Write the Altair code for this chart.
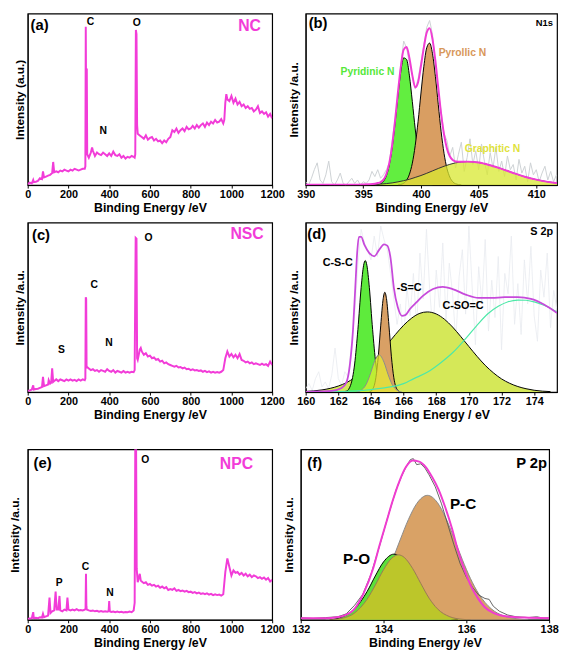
import altair as alt
import pandas as pd

FONT = "Liberation Sans"
MAG = "#F23CD8"

# ---------------- (a) NC survey: (binding energy, intensity) ----------------
a_points = [(0,0.5),(10,1.5),(20,1.0),(27,3.0),(30,1.8),(40,2.0),(50,2.5),(60,4.0),(70,3.5),(75,8.0),
            (80,4.5),(90,5.0),(100,5.5),(110,6.0),(120,7.0),(125,13.5),(130,7.5),(140,8.0),(150,7.5),
            (160,8.5),(170,8.0),(180,9.0),(190,8.5),(200,8.0),(210,9.0),(220,8.5),(230,9.5),(240,9.0),
            (250,8.5),(260,9.0),(270,9.5),(280,9.5),(283,11),(285,92.4),(287,40),(289,20),(290,68),
            (292,18),(300,16),(310,19),(316,22),(320,20),(330,17),(340,19),(350,18),(360,17.5),(370,19),
            (380,18),(390,17),(400,18.5),(410,17),(420,19.5),(430,17.5),(440,17),(450,18),(460,16),
            (470,17),(480,15.5),(490,16.5),(500,16),(510,17),(520,16.5),(525,16),(528,18),(531,90.5),
            (534,88),(537,35),(540,30),(550,29),(560,28),(570,27),(580,29),(590,26.5),(600,27.5),
            (610,28),(620,26),(630,27),(640,25.5),(650,26),(660,24.5),(670,26),(680,25),(690,27),
            (700,28),(710,32),(720,31),(730,33),(740,30.5),(750,32),(760,33),(770,31.5),(780,34),
            (790,32.5),(800,33),(810,34.5),(820,33),(830,35),(840,33.5),(850,35),(860,36),(870,34),
            (880,36.5),(890,35),(900,37),(910,36),(920,38),(930,36.5),(940,37),(950,38.5),(960,36),
            (965,38),(970,48),(975,53),(980,50),(990,49),(1000,52),(1010,48),(1020,50.5),(1030,47),
            (1040,48.5),(1050,46),(1060,47),(1070,45),(1080,46),(1090,44.5),(1100,45),(1110,43),
            (1120,44),(1130,46),(1140,42),(1150,43),(1160,41.5),(1170,42.5),(1180,40),(1190,41.5),(1200,39)]

# ---------------- (c) NSC survey ----------------
c_points = [(0,0.8),(10,1.0),(20,1.5),(27,4.0),(30,1.5),(40,1.8),(50,2.0),(60,2.5),(70,3.0),(75,9.0),
            (80,3.5),(90,4.0),(100,4.5),(103,7.0),(110,5.0),(115,5.5),(120,14.0),(125,6.0),(130,6.5),
            (140,7.5),(150,6.5),(160,7.5),(170,7.0),(180,6.5),(190,7.5),(200,6.8),(210,7.5),(220,6.8),
            (230,7.2),(240,6.5),(250,7.5),(260,6.8),(270,7.5),(280,7.0),(283,8),(285,56),(287,55),
            (289,14),(290,15),(300,14),(310,13),(320,13.5),(330,12.5),(340,13),(350,12),(360,13),
            (370,12.5),(380,12),(390,13.5),(400,12.5),(410,12),(420,13),(430,11.5),(440,12.5),(450,12),
            (460,11.5),(470,12.5),(480,11.5),(490,12),(500,11.5),(510,12),(520,11.8),(525,13),(530,91),
            (534,90.5),(537,20),(540,19),(550,25),(555,26),(560,24),(570,22),(580,23),(590,21),
            (600,21.5),(610,20),(620,20.5),(630,19),(640,19.5),(650,18),(660,18.5),(670,17),(680,17.5),
            (690,16.5),(700,16),(710,15.5),(720,15),(730,15.5),(740,14.5),(750,14.8),(760,14),(770,14.5),
            (780,13.5),(790,13.8),(800,13),(810,13.5),(820,12.8),(830,13),(840,12.5),(850,12.8),(860,12),
            (870,12.5),(880,11.8),(890,12.2),(900,11.5),(910,12),(920,11.5),(930,11.8),(940,11.5),
            (950,12),(960,13),(970,20),(980,24),(990,21),(1000,22.5),(1010,20.5),(1020,22),(1030,20),
            (1040,22.5),(1050,19),(1060,18.5),(1070,17.5),(1080,18),(1090,17),(1100,17.5),(1110,16.5),
            (1120,17),(1130,16.5),(1140,16),(1150,16.8),(1160,16),(1170,16.5),(1180,15.5),(1190,18),(1200,16)]

# ---------------- (e) NPC survey ----------------
e_points = [(0,0.5),(10,0.8),(20,1.0),(27,4.5),(30,1.0),(40,1.2),(50,1.0),(60,1.5),(70,1.3),(75,3.5),
            (80,1.5),(90,2.0),(100,2.5),(107,13),(112,4),(120,5),(130,5.5),(137,16.5),(142,6),(150,6),
            (156,14),(160,5.5),(170,5.0),(180,6),(190,5.5),(195,13),(200,6),(210,5.5),(220,6),(230,5.5),
            (240,6.2),(250,5.5),(260,5.8),(270,5.5),(280,6),(284,6.5),(286,27),(288,8),(290,6),(300,5.5),
            (310,5.2),(320,5.5),(330,5),(340,5.3),(350,4.8),(360,5.2),(370,4.8),(380,5),(390,4.7),
            (397,5),(400,11),(403,5),(410,4.6),(420,4.9),(430,4.5),(440,4.8),(450,4.4),(460,4.7),
            (470,4.3),(480,4.6),(490,4.5),(500,4.8),(510,4.5),(520,5.5),(525,10),(528,102),(532,102),
            (535,30),(540,22),(550,27),(555,23),(560,22.5),(570,21.5),(580,22),(590,20.5),(600,21),
            (610,20),(620,20.5),(630,19.5),(640,20),(650,18.8),(660,19.5),(670,18.5),(680,19.2),
            (690,17.5),(700,18),(710,17.6),(720,18.5),(730,17),(740,17.5),(750,16.8),(760,17.2),
            (770,16.5),(780,17),(790,16.2),(800,16.5),(810,15.8),(820,16.2),(830,15.5),(840,16),
            (850,15.2),(860,15.6),(870,15),(880,15.5),(890,14.8),(900,15.2),(910,14.5),(920,15),
            (930,14.5),(940,14.8),(950,14.2),(960,15),(970,28),(980,36),(990,31),(1000,26),(1010,29),
            (1020,27.5),(1030,28),(1040,26.5),(1050,27.5),(1060,26),(1070,27),(1080,25.5),(1090,26.5),
            (1100,25),(1110,26),(1120,25.5),(1130,24.5),(1140,25),(1150,24),(1160,24.8),(1170,23.5),
            (1180,24.5),(1190,22.5),(1200,23.5)]

# ---------------- (b) N1s ----------------
b_raw = [(390,2),(390.25,0),(390.5,4),(390.75,9),(391,13),(391.25,3),(391.5,1),(391.75,6),(392,14),
         (392.25,2),(392.5,0),(392.75,3),(393,7),(393.25,1),(393.5,0),(393.75,2),(394,4),(394.25,1),
         (394.5,3),(394.75,0),(395,2),(395.25,1),(395.5,3),(395.75,8),(396,5),(396.25,9),(396.5,4),
         (396.75,6),(397,9),(397.25,13),(397.5,26),(397.75,38),(398,52),(398.25,70),(398.5,84),
         (398.75,80),(399,71),(399.25,64),(399.5,56),(399.75,62),(400,72),(400.25,82),(400.5,92),
         (400.75,96),(401,88),(401.25,70),(401.5,55),(401.75,43),(402,30),(402.25,26),(402.5,17),
         (402.75,22),(403,10),(403.25,18),(403.5,25),(403.75,8),(404,16),(404.25,27),(404.5,12),
         (404.75,20),(405,9),(405.25,24),(405.5,14),(405.75,6),(406,19),(406.25,10),(406.5,22),
         (406.75,8),(407,14),(407.25,5),(407.5,17),(407.75,9),(408,12),(408.25,3),(408.5,15),
         (408.75,7),(409,11),(409.25,2),(409.5,13),(409.75,6),(410,9),(410.25,2),(410.5,7),
         (410.75,11),(411,3),(411.25,8),(411.5,2),(411.75,6),(412,4)]
b_env_x = [390,391,392,393,394,395,396,396.25,396.5,396.75,397,397.25,397.5,397.75,398,398.25,398.5,
           398.75,399,399.25,399.5,399.75,400,400.25,400.5,400.75,401,401.25,401.5,401.75,402,402.25,
           402.5,402.75,403,403.5,404,405,406,407,408,409,410,411,412]
b_env_y = [0.3,0.3,0.3,0.3,0.3,0.4,0.8,1.2,1.8,3.2,6.5,12.8,23,37.5,54,69,79,80.5,74,64,57,60,69.5,
           80.2,89,91.5,85.1,72.4,56.7,41.4,29.5,21.4,16.8,14.6,13.8,13.6,13.7,13.2,11.6,9.5,7.1,4.9,
           3.2,1.9,1.0]
b_pyr_x = [396,396.25,396.5,396.75,397,397.25,397.5,397.75,398,398.25,398.5,398.75,399,399.25,399.5,
           399.75,400,400.25,400.5,400.75,401]
b_pyr_y = [0.1,0.3,0.8,2.3,5.5,11.7,21.8,35.9,52.0,66.2,74.2,73.3,63.7,48.7,32.8,19.4,10.2,4.6,1.9,0.7,0.2]
b_pyl_x = [398,398.25,398.5,398.75,399,399.25,399.5,399.75,400,400.25,400.5,400.75,401,401.25,401.5,
           401.75,402,402.25,402.5,402.75,403,403.5]
b_pyl_y = [0.1,0.4,1.1,2.8,6.4,12.8,23.1,37.2,53.7,69.3,80.1,82.8,76.6,63.4,47.0,31.1,18.5,9.8,4.7,
           2.0,0.8,0.1]
b_gra_x = [392,393,394,395,396,396.5,397,397.5,398,398.5,399,399.5,400,400.5,401,401.5,402,402.5,403,
           403.5,404,405,406,407,408,409,410,411,412]
b_gra_y = [0.0,0.0,0.05,0.15,0.4,0.6,0.9,1.3,1.9,2.6,3.4,4.5,5.6,6.9,8.3,9.7,11.0,12.1,13.0,13.5,13.7,
           13.2,11.6,9.5,7.1,4.9,3.2,1.9,1.0]

# ---------------- (d) S 2p ----------------
d_raw = [(160.0,2),(160.2,5),(160.4,1),(160.6,8),(160.8,12),(161.0,3),(161.2,6),(161.4,2),(161.6,10),
         (161.8,26),(162.0,8),(162.2,4),(162.4,12),(162.6,9),(162.8,28),(163.0,45),(163.2,75),(163.4,96),
         (163.6,88),(163.8,84),(164.0,78),(164.2,92),(164.4,80),(164.6,98),(164.8,90),(165.0,84),
         (165.2,70),(165.4,55),(165.6,40),(165.8,52),(166.0,30),(166.2,62),(166.4,45),(166.6,70),
         (166.8,38),(167.0,82),(167.2,55),(167.4,96),(167.6,60),(167.8,35),(168.0,72),(168.2,50),
         (168.4,88),(168.6,42),(168.8,76),(169.0,58),(169.2,30),(169.4,68),(169.6,84),(169.8,46),
         (170.0,98),(170.2,62),(170.4,28),(170.6,74),(170.8,52),(171.0,90),(171.2,36),(171.4,66),
         (171.6,44),(171.8,80),(172.0,25),(172.2,70),(172.4,58),(172.6,92),(172.8,40),(173.0,64),
         (173.2,34),(173.4,78),(173.6,52),(173.8,86),(174.0,45),(174.2,30),(174.4,72),(174.6,56),
         (174.8,82),(175.0,38),(175.2,60),(175.4,48)]
d_env_x = [160,161.6,162.2,162.5,162.7,162.9,163.04,163.16,163.26,163.4,163.6,163.9,164.2,164.5,164.8,
           165.0,165.2,165.4,165.64,165.9,166.1,166.4,166.8,167.2,167.8,168.4,169.0,169.8,170.6,171.4,
           172.2,173.0,173.8,174.6,175.4]
d_env_y = [0.1,0.7,2.4,5.9,15.5,36.7,61.7,82.9,91.6,91.6,86.8,82.0,80.1,83.9,87.2,86.4,79.1,61.7,50.2,
           45.0,45.4,49.2,53.1,56.9,60.8,62.1,60.8,57.5,55.6,55.6,56.0,56.0,55.0,51.7,46.7]
d_csc_x = [162.2,162.5,162.75,163,163.2,163.4,163.55,163.65,163.75,163.9,164.1,164.3,164.55,164.8,165.1]
d_csc_y = [0,0.6,4.0,16.6,37.0,61.8,74.8,77.6,74.8,61.8,37.0,16.6,4.0,0.6,0]
d_sc_x = [163.9,164.1,164.3,164.45,164.6,164.75,164.85,164.95,165.1,165.25,165.4,165.6,165.8]
d_sc_y = [0,1.6,8.5,21.2,39.5,55.2,58.9,55.2,39.5,21.2,8.5,1.6,0]
d_sub_x = [163.1,163.4,163.7,163.95,164.2,164.5,164.8,165.05,165.3,165.6,165.9]
d_sub_y = [0,1.1,4.5,10.4,17.6,22,17.6,10.4,4.5,1.1,0]
d_cso_x = [160,161,162,162.5,163,163.5,164,164.5,165,165.5,166,166.5,167,167.45,168,168.5,169,169.5,
           170,170.5,171,171.5,172,172.5,173,173.5,174,175]
d_cso_y = [0.4,1.3,3.6,5.6,8.5,12.2,16.8,22.2,28.1,34.0,39.4,43.7,46.5,47.3,46.1,43.0,38.4,32.8,26.9,
           21.1,15.8,11.4,7.8,5.2,3.3,2.0,1.1,0.3]
d_hi_x = [160,162,164,165,166,166.6,167.5,168.3,169,169.8,170.6,171.2,171.8,172.4,173.0,173.5,174.0,
          174.6,175.4]
d_hi_y = [0,0.3,1.5,2.8,5.0,7.8,12,17.5,23.2,31.5,40.6,46.5,50.6,53.3,54.3,54.2,53.2,51.2,47.3]

# ---------------- (f) P 2p ----------------
f_raw_x = [132.0,132.3,132.6,132.9,133.1,133.3,133.5,133.7,133.9,134.1,134.3,134.45,134.55,134.65,
           134.72,134.8,134.9,135.0,135.1,135.25,135.4,135.55,135.7,135.85,136.0,136.15,136.3,136.45,
           136.55,136.65,136.8,137.0,137.2,137.5,137.7,137.85,138.0]
f_raw_y = [1.2,0.8,1.3,1.8,3.5,8.5,15,27,43,60,76,85,90,94,94.5,91,91.5,89,85,78,68,56,44,33,25,19,
           14.5,12.5,12,8,5,2.8,1.8,1.3,1.8,1.0,1.2]
f_env_x = [132,132.63,132.87,133.03,133.27,133.51,133.75,133.90,134.06,134.22,134.38,134.54,134.70,
           134.86,135.02,135.17,135.33,135.49,135.65,135.81,135.97,136.13,136.29,136.44,136.68,137.0,
           137.4,138]
f_env_y = [0.9,0.9,1.5,2.3,5.7,15.1,30.2,43.4,56.6,69.8,81.1,89.6,93.4,92.8,89.6,83.9,76.4,66.0,53.8,
           39.6,28.3,18.9,12.3,7.5,3.8,1.9,1.3,0.9]
f_pc_x = [132.6,132.9,133.2,133.5,133.8,134.0,134.2,134.4,134.6,134.8,135.06,135.3,135.5,135.7,135.9,
          136.1,136.3,136.6,136.9,137.2,137.5]
f_pc_y = [0,0.6,2.1,6.1,14.4,23.2,34.3,46.8,58.8,68.1,73.0,68.8,59.9,48.1,35.5,24.2,15.2,6.5,2.3,0.7,0]
f_g_x = [132.7,133.0,133.3,133.6,133.8,134.0,134.25,134.5,134.7,134.9,135.2,135.5,135.8]
f_g_y = [0,1.7,6.3,16.5,25.7,34.0,38.5,34.0,25.7,16.5,6.3,1.7,0]
f_po_x = [132.7,133.0,133.3,133.6,133.8,134.0,134.2,134.36,134.5,134.7,134.9,135.1,135.3,135.6,135.9,136.1]
f_po_y = [0,0.9,4.0,12.0,20.3,29.4,36.2,38.1,36.6,30.2,21.3,12.7,6.5,1.8,0.3,0]

survey_ticks = [0, 200, 400, 600, 800, 1000, 1200]


def enc(dom, ticks, ytitle, xtitle="Binding Energy /eV", ypad=2):
    return dict(
        x=alt.X("x:Q", scale=alt.Scale(domain=dom, nice=False, zero=False),
                axis=alt.Axis(values=ticks, title=xtitle, format="d")),
        y=alt.Y("y:Q", scale=alt.Scale(domain=[0, 100], nice=False, zero=False),
                axis=alt.Axis(title=ytitle, labels=False, ticks=False, titlePadding=ypad)),
    )


def frame(xs, ys):
    return pd.DataFrame({"x": xs, "y": ys})


def line(xs, ys, e, color, width, interp="linear"):
    return alt.Chart(frame(xs, ys)).mark_line(
        color=color, strokeWidth=width, interpolate=interp, clip=True).encode(**e)


def area(xs, ys, e, fill, outline, op=1.0, ow=1.0):
    return alt.Chart(frame(xs, ys)).mark_area(
        color=fill, fillOpacity=op, interpolate="monotone", clip=True,
        line=alt.OverlayMarkDef(color=outline, strokeWidth=ow)).encode(**e)


def text(ts, xs, ys, e, size, color="black", align="center"):
    df = pd.DataFrame({"x": xs, "y": ys, "t": ts})
    return alt.Chart(df).mark_text(
        font=FONT, fontWeight="bold", fontSize=size, color=color, align=align,
        baseline="middle").encode(x=e["x"], y=e["y"], text="t:N")


def split(points):
    return [p[0] for p in points], [p[1] for p in points]


# ---- panel (a)
ea = enc([0, 1200], survey_ticks, "Intensity (a.u.)", ypad=1)
ax, ay = split(a_points)
pa = alt.layer(
    line(ax, ay, ea, MAG, 2.0),
    text(["C", "O", "N"], [308, 535, 371], [95, 94.4, 31.8], ea, 10.5),
    text(["(a)"], [14], [93.3], ea, 15, align="left"),
    text(["NC"], [1089], [92.7], ea, 16, MAG),
).properties(width=248, height=174)

# ---- panel (b)
eb = enc([390, 411.8], [390, 395, 400, 405, 410], "Intensity /a.u.", ypad=5)
bx, by = split(b_raw)
pb = alt.layer(
    line(bx, by, eb, "#CDD1D4", 1.0),
    area(b_pyr_x, b_pyr_y, eb, "#62EE40", "black"),
    area(b_pyl_x, b_pyl_y, eb, "#D99E62", "black"),
    area(b_gra_x, b_gra_y, eb, "#D8E830", "#333333", 0.75),
    line(b_env_x, b_env_y, eb, "#F03CD4", 2.0, "monotone"),
    text(["(b)"], [390.26], [94.7], eb, 15, align="left"),
    text(["N1s"], [411.45], [94.7], eb, 9.5, align="right"),
    text(["Pyridinic N"], [395.36], [66.1], eb, 10.5, "#55E83A"),
    text(["Pyrollic N"], [403.6], [76.9], eb, 10.5, "#D8975A"),
    text(["Graphitic N"], [406.2], [21.1], eb, 10.5, "#E0E23C"),
).properties(width=255, height=174)

# ---- panel (c)
ec = enc([0, 1200], survey_ticks, "Intensity /a.u.", ypad=1)
cx, cy = split(c_points)
pc = alt.layer(
    line(cx, cy, ec, MAG, 2.0),
    text(["C", "O", "S", "N"], [326, 593, 166, 399], [63.4, 90.9, 24.6, 29.1], ec, 10.5),
    text(["(c)"], [21], [92.6], ec, 15, align="left"),
    text(["NSC"], [1077], [93.1], ec, 16, MAG),
).properties(width=248, height=172)

# ---- panel (d)
ed = enc([160, 175.4], [160, 162, 164, 166, 168, 170, 172, 174], "Intensity /a.u.",
         xtitle="Binding Energy / eV", ypad=5)
dx, dy = split(d_raw)
pd_ = alt.layer(
    line(dx, dy, ed, "#E8EBF0", 0.8),
    area(d_cso_x, d_cso_y, ed, "#D5E858", "black"),
    area(d_csc_x, d_csc_y, ed, "#5EEB3C", "black"),
    area(d_sc_x, d_sc_y, ed, "#D9A065", "black"),
    area(d_sub_x, d_sub_y, ed, "#E6F030", "#8C8C8C", 0.7),
    line(d_hi_x, d_hi_y, ed, "#4DE8A8", 1.2, "monotone"),
    line(d_env_x, d_env_y, ed, "#C74ADB", 1.8, "monotone"),
    text(["(d)"], [160.1], [93.4], ed, 15, align="left"),
    text(["S 2p"], [175.16], [94.5], ed, 11, align="right"),
    text(["C-S-C", "-S=C", "C-SO=C"], [161.96, 166.34, 169.64], [76.0, 61.6, 50.6], ed, 11),
).properties(width=255, height=172)

# ---- panel (e)
ee = enc([0, 1200], survey_ticks, "Intensity /a.u.", ypad=6)
ex, ey = split(e_points)
pe = alt.layer(
    line(ex, ey, ee, MAG, 2.0),
    text(["O", "C", "P", "N"], [577, 284, 154, 404], [93.9, 30.9, 21.8, 15.5], ee, 10.5),
    text(["(e)"], [29], [92.2], ee, 15, align="left"),
    text(["NPC"], [1025], [91.6], ee, 16, MAG),
).properties(width=248, height=173)

# ---- panel (f)
ef = enc([132, 138], [132, 134, 136, 138], "Intensity /a.u.", ypad=5)
pf = alt.layer(
    area(f_pc_x, f_pc_y, ef, "#D9A266", "#8A8A8A"),
    area(f_g_x, f_g_y, ef, "#5CE03A", "black"),
    area(f_po_x, f_po_y, ef, "#BCC62A", "#9A7A55"),
    line(f_raw_x, f_raw_y, ef, "#555555", 0.9),
    line(f_env_x, f_env_y, ef, "#F03CD0", 2.0, "monotone"),
    text(["(f)"], [132.16], [92.2], ef, 15, align="left"),
    text(["P 2p"], [137.95], [92.2], ef, 15, align="right"),
    text(["P-O", "P-C"], [133.35, 135.92], [35.7, 67.9], ef, 15.5),
).properties(width=252, height=173)

row1 = alt.hconcat(pa, pb, spacing=34, bounds="flush")
row2 = alt.hconcat(pc, pd_, spacing=34, bounds="flush")
row3 = alt.hconcat(pe, pf, spacing=29, bounds="flush")
top = alt.vconcat(row1, row2, spacing=6)

chart = alt.vconcat(top, row3, spacing=26).properties(
    padding=0, background="white"
).configure_view(
    stroke="black", strokeWidth=1.2
).configure_axis(
    domainColor="black", domainWidth=1, tickColor="black", tickWidth=1,
    labelColor="black", titleColor="black", labelFont=FONT, titleFont=FONT,
    labelFontWeight="bold", titleFontWeight="bold", labelFontSize=11,
    titleFontSize=12.5, grid=False
).configure_axisX(
    tickSize=3, labelPadding=1, titlePadding=2, labelFlush=False
).configure_axisY(
    titleFontSize=12
)

chart.save("out.html", embed_options={"renderer": "svg", "actions": False})
